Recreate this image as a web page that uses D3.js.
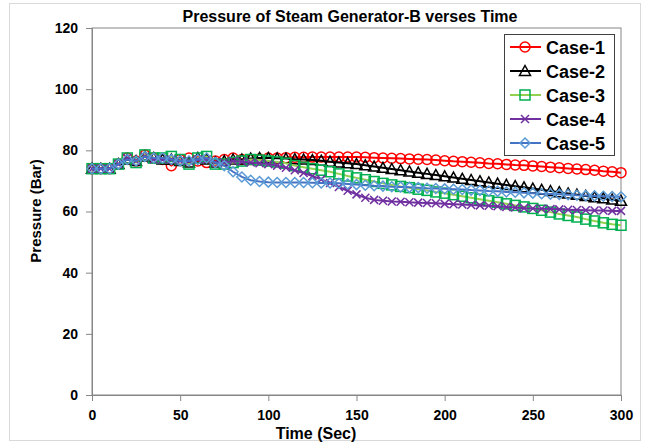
<!DOCTYPE html>
<html>
<head>
<meta charset="utf-8">
<script src="https://cdn.jsdelivr.net/npm/d3@7"></script>
<style>
	body { margin:0; background:#fff; }
	text { font-family:"Liberation Sans", Arial, sans-serif; font-weight:bold; }
</style>
</head>
<body>
<svg id="chart" width="648" height="447"></svg>
<script>
// time in seconds, every 5 s
var times = d3.range(0, 301, 5)

var case1 = [74,74,74,75.5,77.5,76.5,78.5,77.5,77,
	75,77,77.5,76.5,76,76.5,77,77.5,
	77,77,77.2,77.5,77.5,77.6,77.7,77.7,77.8,77.8,77.8,77.8,77.8,77.8,
	77.7,77.6,77.5,77.4,77.3,77.2,77.1,77,76.8,76.6,
	76.4,76.3,76.1,75.9,75.7,75.6,75.4,75.2,75.1,74.9,
	74.7,74.5,74.3,74.1,73.9,73.7,73.5,73.2,73,72.7]

var case2 = [74,74,74,75.5,77,76.5,78,77.5,77,
	77,76.5,76,77.5,77,76,76.5,77,
	77,77.3,77.5,77.5,77.4,77.3,77.1,77,76.8,76.6,76.3,76,75.8,75.5,
	75.1,74.7,74.3,73.9,73.5,73.1,72.7,72.3,71.9,71.5,
	71.1,70.7,70.3,69.9,69.5,69.1,68.7,68.3,67.9,67.5,
	67.1,66.7,66.3,65.9,65.5,65.1,64.7,64.3,63.9,63.5]

var case3 = [74,74,74,75.5,77.5,76,78.5,77.5,77.5,
	78,77,75.5,77.5,78,75.5,75.5,76,
	76.5,77,76.8,76.5,76.2,75.8,75,74.5,74,73.5,73,72.3,71.6,71,
	70.4,69.8,69.2,68.7,68.2,67.8,67.3,66.9,66.4,66,
	65.5,65,64.5,64,63.5,63,62.5,62,61.5,61,
	60.4,59.8,59.2,58.7,58.2,57.5,56.9,56.3,55.8,55.5]

var case4 = [74,74,74,75.5,77.5,76.5,78,77,77,
	77,76.5,76.5,77,77,76,76,76.5,
	76.3,76,75.8,75.5,75,74.3,73.5,72.6,71.6,70.5,69.3,68,66.8,65.6,
	64.5,63.8,63.5,63.3,63.2,63,62.9,62.8,62.7,62.5,
	62.4,62.3,62.1,62,61.9,61.7,61.5,61.3,61.1,61,
	60.9,60.8,60.7,60.6,60.5,60.4,60.3,60.3,60.2,60.2]

var case5 = [74,74,74,75.5,77,76.5,78,77.5,77.5,
	77,76.5,76.5,77,77.5,76,75,73,
	71.3,70.2,69.8,69.6,69.5,69.5,69.5,69.5,69.4,69.3,69.3,69.2,69,68.8,
	68.6,68.4,68.3,68.1,68,67.9,67.8,67.6,67.5,67.4,
	67.3,67.2,67,66.9,66.7,66.6,66.4,66.3,66.1,66,
	65.8,65.7,65.6,65.5,65.3,65.2,65.1,65,64.9,64.8]

var seriesNames = ["Case-1","Case-2","Case-3","Case-4","Case-5"]
var xTicks = [0,50,100,150,200,250,300]
var yTicks = [0,20,40,60,80,100,120]

var series = [
	{name:seriesNames[0], values:case1, line:"#FF0000", mark:"#FF0000", shape:"circle"},
	{name:seriesNames[1], values:case2, line:"#000000", mark:"#000000", shape:"triangle"},
	{name:seriesNames[2], values:case3, line:"#92D050", mark:"#00B050", shape:"square"},
	{name:seriesNames[3], values:case4, line:"#7030A0", mark:"#7030A0", shape:"cross"},
	{name:seriesNames[4], values:case5, line:"#4472C4", mark:"#5B9BD5", shape:"diamond"}
]

var svg = d3.select("#chart")

var plotL = 92, plotR = 621, plotT = 28, plotB = 395

var x = d3.scaleLinear().domain([0,300]).range([plotL,plotR])
var y = d3.scaleLinear().domain([0,120]).range([plotB,plotT])

// outer chart border
svg.append("rect")
	.attr("x",9.5).attr("y",3.5)
	.attr("width",631).attr("height",437)
	.attr("fill","#fff")
	.attr("stroke","#d9d9d9")

// plot area frame
svg.append("rect")
	.attr("x",plotL).attr("y",plotT)
	.attr("width",plotR-plotL).attr("height",plotB-plotT)
	.attr("fill","none")
	.attr("stroke","#868686")

svg.append("g")
	.attr("transform","translate(0,"+plotB+")")
	.call(d3.axisBottom(x).tickValues(xTicks).tickSize(6).tickPadding(9))
svg.append("g")
	.attr("transform","translate("+plotL+",0)")
	.call(d3.axisLeft(y).tickValues(yTicks).tickSize(6).tickPadding(8))

svg.selectAll(".domain, .tick line").attr("stroke","#868686")
svg.selectAll(".tick text")
	.attr("fill","#000")
	.style("font-size","14px")
	.style("font-family","'Liberation Sans', Arial, sans-serif")
	.style("font-weight","bold")

function marker(sel, shape, color){
	if(shape=="circle"){
		sel.append("circle").attr("r",5)
	}else if(shape=="triangle"){
		sel.append("path").attr("d","M0,-5.5L5.5,4.5L-5.5,4.5Z")
	}else if(shape=="square"){
		sel.append("rect").attr("x",-5).attr("y",-5).attr("width",10).attr("height",10)
	}else if(shape=="cross"){
		sel.append("path").attr("d","M-4,-4L4,4M-4,4L4,-4")
	}else if(shape=="diamond"){
		sel.append("path").attr("d","M0,-5L5,0L0,5L-5,0Z")
	}
	sel.selectAll("*")
		.attr("fill","none")
		.attr("stroke",color)
		.attr("stroke-width",1.5)
}

var line = d3.line()
	.x(function(d,i){ return x(times[i]) })
	.y(function(d){ return y(d) })

series.forEach(function(s){
	var g = svg.append("g").classed("series",true)
	g.append("path")
		.datum(s.values)
		.attr("d",line)
		.attr("fill","none")
		.attr("stroke",s.line)
		.attr("stroke-width",2)
	g.selectAll(".mk")
		.data(s.values)
	.enter().append("g")
		.classed("mk",true)
		.attr("transform",function(d,i){ return "translate("+x(times[i])+","+y(d)+")" })
		.each(function(){ marker(d3.select(this), s.shape, s.mark) })
})

// legend
var legend = svg.append("g")
legend.append("rect")
	.attr("x",504.5).attr("y",34.5)
	.attr("width",110).attr("height",121)
	.attr("fill","#fff")
	.attr("stroke","#404040")

series.forEach(function(s,i){
	var ly = 47 + i*24
	var lg = legend.append("g")
	lg.append("line")
		.attr("x1",510).attr("x2",541)
		.attr("y1",ly).attr("y2",ly)
		.attr("stroke",s.line)
		.attr("stroke-width",2)
	var m = lg.append("g").attr("transform","translate(525,"+ly+")")
	marker(m, s.shape, s.mark)
	lg.append("text")
		.attr("x",546).attr("y",ly+6.5)
		.style("font-size","18px")
		.text(s.name)
})

svg.append("text")
	.attr("x",350).attr("y",22)
	.attr("text-anchor","middle")
	.style("font-size","16px")
	.text("Pressure of Steam Generator-B verses Time")

svg.append("text")
	.attr("x",316).attr("y",439)
	.attr("text-anchor","middle")
	.style("font-size","16px")
	.text("Time (Sec)")

svg.append("text")
	.attr("transform","translate(41,211) rotate(-90)")
	.attr("text-anchor","middle")
	.style("font-size","15px")
	.text("Pressure (Bar)")
</script>
</body>
</html>
